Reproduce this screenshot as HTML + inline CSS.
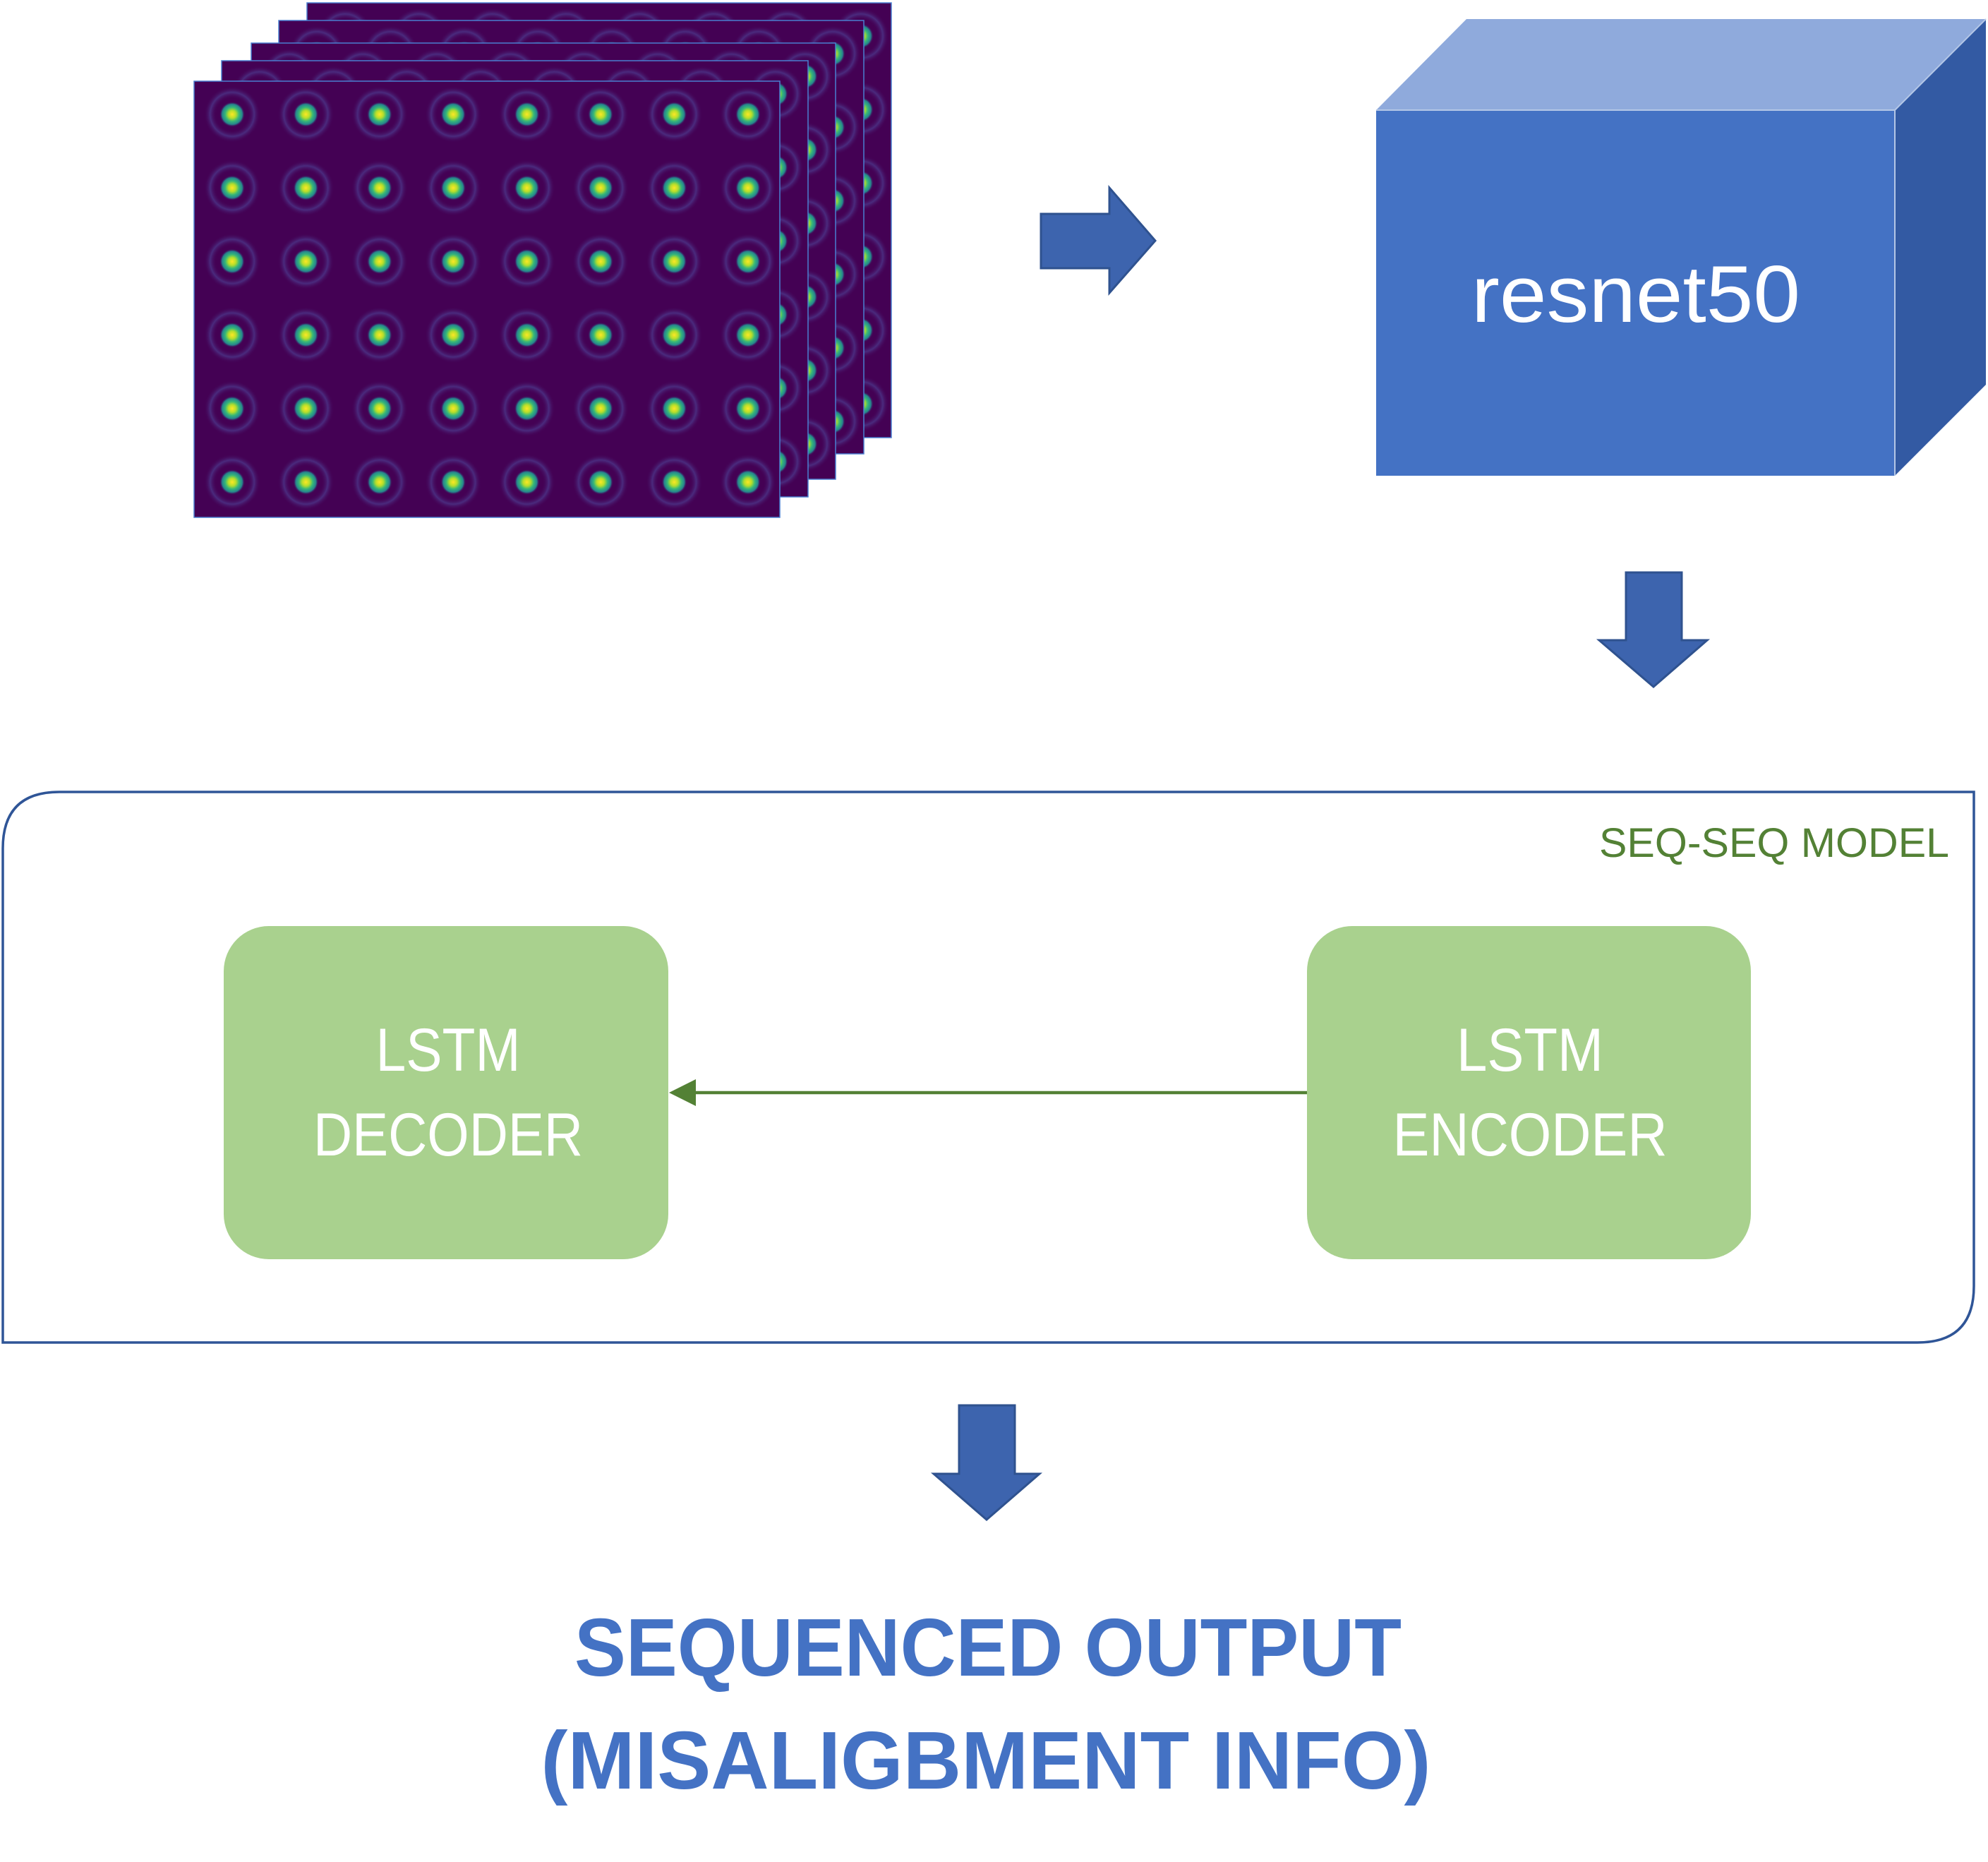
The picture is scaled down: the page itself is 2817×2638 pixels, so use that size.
<!DOCTYPE html>
<html><head><meta charset="utf-8"><style>
html,body{margin:0;padding:0;background:#fff;}
svg{display:block;}
</style></head><body>
<svg width="2817" height="2638" viewBox="0 0 2817 2638" xmlns="http://www.w3.org/2000/svg">
<defs>
<radialGradient id="core">
<stop offset="0" stop-color="#fde725"/>
<stop offset="0.3" stop-color="#b5de2b"/>
<stop offset="0.55" stop-color="#35b779"/>
<stop offset="0.8" stop-color="#26828e"/>
<stop offset="1" stop-color="#440154" stop-opacity="0"/>
</radialGradient>
<radialGradient id="ring">
<stop offset="0" stop-color="#440154" stop-opacity="0"/>
<stop offset="0.55" stop-color="#440154" stop-opacity="0"/>
<stop offset="0.78" stop-color="#4a2b7e" stop-opacity="1"/>
<stop offset="1" stop-color="#440154" stop-opacity="0"/>
</radialGradient>
<pattern id="dots" x="0" y="0" width="104.4" height="104.2" patternUnits="userSpaceOnUse">
<rect width="104.4" height="104.2" fill="#440154"/>
<circle cx="54" cy="47" r="40" fill="url(#ring)"/>
<circle cx="54" cy="47" r="18" fill="url(#core)"/>
</pattern>
</defs>
<rect width="2817" height="2638" fill="#fff"/>

<!-- image stack -->
<g stroke="#4a7fd0" stroke-width="1.5">
<g transform="translate(435,4)"><rect width="828" height="616" fill="url(#dots)"/></g>
<g transform="translate(395,29)"><rect width="829" height="614" fill="url(#dots)"/></g>
<g transform="translate(356,61)"><rect width="828" height="618" fill="url(#dots)"/></g>
<g transform="translate(314,86)"><rect width="831" height="618" fill="url(#dots)"/></g>
<g transform="translate(275,115)"><rect width="830" height="618" fill="url(#dots)"/></g>
</g>

<!-- right arrow -->
<polygon points="1475,303 1572,303 1572,266 1637,341 1572,415 1572,380 1475,380" fill="#3d64ae" stroke="#2f528f" stroke-width="3"/>

<!-- cube -->
<polygon points="1950,156 2078,27 2814,27 2685,156" fill="#8faadc"/>
<polygon points="2685,156 2814,27 2814,545 2685,674" fill="#335aa3"/>
<rect x="1950" y="156" width="735" height="518" fill="#4472c4"/>
<line x1="1950" y1="156" x2="2685" y2="156" stroke="#b4c7e7" stroke-width="2"/>
<line x1="2685" y1="156" x2="2685" y2="674" stroke="#b4c7e7" stroke-width="2"/>
<line x1="2685" y1="156" x2="2814" y2="27" stroke="#b4c7e7" stroke-width="2"/>
<text x="2318" y="456" text-anchor="middle" font-family="Liberation Sans, sans-serif" font-size="114" fill="#fff" textLength="466" lengthAdjust="spacingAndGlyphs">resnet50</text>

<!-- down arrow 1 -->
<polygon points="2304,811 2383,811 2383,907 2419,907 2343,973 2266,907 2304,907" fill="#3d64ae" stroke="#2f528f" stroke-width="3"/>

<!-- seq-seq outer box -->
<path d="M84,1122 H2797 V1822 Q2797,1902 2717,1902 H4 V1202 Q4,1122 84,1122 Z" fill="none" stroke="#2f5597" stroke-width="3.5"/>
<text x="2762" y="1214" text-anchor="end" font-family="Liberation Sans, sans-serif" font-size="58" fill="#538135" textLength="496" lengthAdjust="spacingAndGlyphs">SEQ-SEQ MODEL</text>

<!-- decoder -->
<rect x="317" y="1312" width="630" height="472" rx="64" ry="64" fill="#a9d18e"/>
<text x="635" y="1517" text-anchor="middle" font-family="Liberation Sans, sans-serif" font-size="86" fill="#fff" textLength="205" lengthAdjust="spacingAndGlyphs">LSTM</text>
<text x="635" y="1637" text-anchor="middle" font-family="Liberation Sans, sans-serif" font-size="86" fill="#fff" textLength="382" lengthAdjust="spacingAndGlyphs">DECODER</text>

<!-- encoder -->
<rect x="1852" y="1312" width="629" height="472" rx="64" ry="64" fill="#a9d18e"/>
<text x="2168" y="1517" text-anchor="middle" font-family="Liberation Sans, sans-serif" font-size="86" fill="#fff" textLength="208" lengthAdjust="spacingAndGlyphs">LSTM</text>
<text x="2168" y="1637" text-anchor="middle" font-family="Liberation Sans, sans-serif" font-size="86" fill="#fff" textLength="389" lengthAdjust="spacingAndGlyphs">ENCODER</text>

<!-- connector -->
<line x1="1852" y1="1548" x2="980" y2="1548" stroke="#538135" stroke-width="4.5"/>
<polygon points="948,1548 986,1529 986,1567" fill="#538135"/>

<!-- down arrow 2 -->
<polygon points="1359,1991 1438,1991 1438,2088 1473,2088 1398,2153 1323,2088 1359,2088" fill="#3d64ae" stroke="#2f528f" stroke-width="3"/>

<!-- output text -->
<text x="1400" y="2374" text-anchor="middle" font-family="Liberation Sans, sans-serif" font-weight="bold" font-size="116" fill="#4472c4" textLength="1172" lengthAdjust="spacingAndGlyphs">SEQUENCED OUTPUT</text>
<text x="1397" y="2534" text-anchor="middle" font-family="Liberation Sans, sans-serif" font-weight="bold" font-size="116" fill="#4472c4" textLength="1261" lengthAdjust="spacingAndGlyphs">(MISALIGBMENT INFO)</text>
</svg>
</body></html>
